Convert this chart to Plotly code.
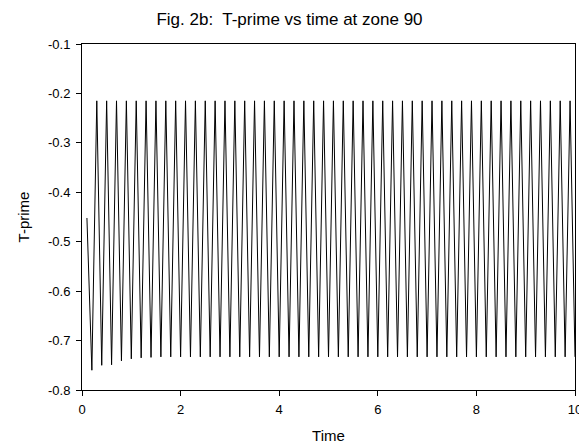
import plotly.graph_objects as go

# Sampled T-prime signal at zone 90 (time step 0.1)
time = [
    0.1, 0.2, 0.3, 0.4, 0.5, 0.6, 0.7, 0.8, 0.9, 1.0,
    1.1, 1.2, 1.3, 1.4, 1.5, 1.6, 1.7, 1.8, 1.9, 2.0,
    2.1, 2.2, 2.3, 2.4, 2.5, 2.6, 2.7, 2.8, 2.9, 3.0,
    3.1, 3.2, 3.3, 3.4, 3.5, 3.6, 3.7, 3.8, 3.9, 4.0,
    4.1, 4.2, 4.3, 4.4, 4.5, 4.6, 4.7, 4.8, 4.9, 5.0,
    5.1, 5.2, 5.3, 5.4, 5.5, 5.6, 5.7, 5.8, 5.9, 6.0,
    6.1, 6.2, 6.3, 6.4, 6.5, 6.6, 6.7, 6.8, 6.9, 7.0,
    7.1, 7.2, 7.3, 7.4, 7.5, 7.6, 7.7, 7.8, 7.9, 8.0,
    8.1, 8.2, 8.3, 8.4, 8.5, 8.6, 8.7, 8.8, 8.9, 9.0,
    9.1, 9.2, 9.3, 9.4, 9.5, 9.6, 9.7, 9.8, 9.9, 10.0,
]

t_prime = [
    -0.452, -0.760, -0.215, -0.750, -0.215, -0.749, -0.215, -0.741, -0.215, -0.737,
    -0.215, -0.735, -0.215, -0.734, -0.215, -0.733, -0.215, -0.733, -0.215, -0.733,
    -0.215, -0.733, -0.215, -0.733, -0.215, -0.733, -0.215, -0.733, -0.215, -0.733,
    -0.215, -0.733, -0.215, -0.733, -0.215, -0.733, -0.215, -0.733, -0.215, -0.733,
    -0.215, -0.733, -0.215, -0.733, -0.215, -0.733, -0.215, -0.733, -0.215, -0.733,
    -0.215, -0.733, -0.215, -0.733, -0.215, -0.733, -0.215, -0.733, -0.215, -0.733,
    -0.215, -0.733, -0.215, -0.733, -0.215, -0.733, -0.215, -0.733, -0.215, -0.733,
    -0.215, -0.733, -0.215, -0.733, -0.215, -0.733, -0.215, -0.733, -0.215, -0.733,
    -0.215, -0.733, -0.215, -0.733, -0.215, -0.733, -0.215, -0.733, -0.215, -0.733,
    -0.215, -0.733, -0.215, -0.733, -0.215, -0.733, -0.215, -0.733, -0.215, -0.733,
]

x_ticks = [0, 2, 4, 6, 8, 10]
y_ticks = [-0.8, -0.7, -0.6, -0.5, -0.4, -0.3, -0.2, -0.1]

FONT = "Liberation Sans, Arial, sans-serif"

fig = go.Figure()
fig.add_trace(go.Scatter(
    x=time, y=t_prime, mode="lines",
    line=dict(color="black", width=1),
    showlegend=False, hoverinfo="skip",
))

axis_common = dict(
    showgrid=False, zeroline=False, automargin=False,
    showline=True, linecolor="black", linewidth=1,
    ticks="outside", ticklen=5, tickcolor="black", tickwidth=1,
    tickfont=dict(family=FONT, size=13, color="black"),
    ticklabeloverflow="allow",
)

fig.update_xaxes(
    range=[0, 10], tickvals=x_ticks, ticktext=[str(v) for v in x_ticks],
    mirror=True, ticklabelstandoff=2,
    title=dict(text="Time", font=dict(family=FONT, size=15, color="black"), standoff=17),
    **axis_common,
)
fig.update_yaxes(
    range=[-0.8, -0.1], tickvals=y_ticks, ticktext=[f"{v:.1f}" for v in y_ticks],
    mirror=True, ticklabelstandoff=3,
    title=dict(text="T-prime", font=dict(family=FONT, size=15, color="black"), standoff=14),
    **axis_common,
)

fig.update_layout(
    width=579, height=444,
    margin=dict(l=82, r=4, t=44, b=54),
    paper_bgcolor="white", plot_bgcolor="white",
    title=dict(
        text="Fig. 2b:  T-prime vs time at zone 90",
        x=0.5, xref="container", xanchor="center",
        y=1 - 19 / 444, yref="container", yanchor="middle",
        font=dict(family=FONT, size=17, color="black"),
    ),
)

fig.write_html("out.html")
